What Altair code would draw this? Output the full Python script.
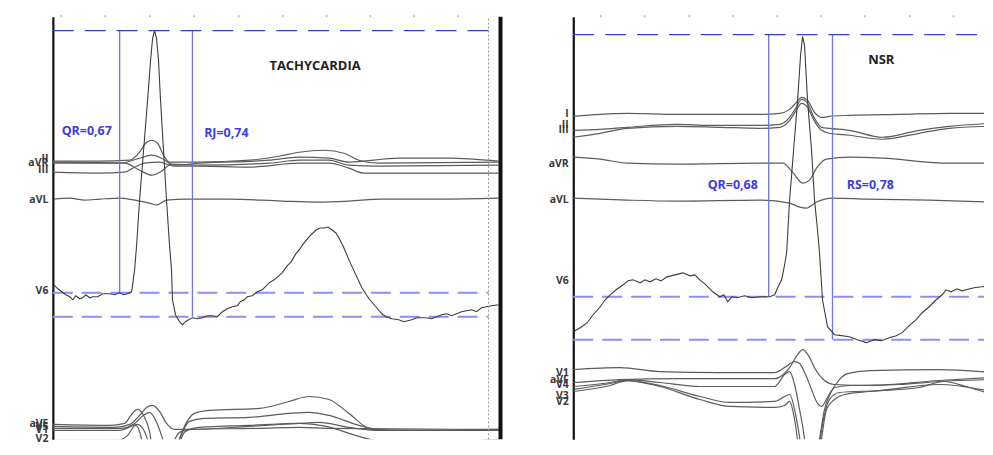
import altair as alt
import pandas as pd

# ---------------- data ----------------
# x = sample index from the left edge of each panel, y = displayed amplitude (arbitrary units)

# Left panel: TACHYCARDIA
L_V6 = [(1,158),(5,154),(9,151),(13,148),(17,146),(20,143),(23,147),(27,144),(30,145),(33,148),(37,145),(40,146),(45,146),(50,149),(57,149),(62,148),(67,150),(71,148),(75,149),(79,151),(82,173),(84,198),(87,243),(91,293),(95,343),(98,383),(100,405),(102,413),(104,405),(106,383),(108,343),(111,293),(114,243),(117,198),(119,173),(120,143),(123,128),(127,121),(130,118),(133,121),(136,123),(140,125),(145,124),(150,125),(155,127),(160,127),(165,126),(170,131),(175,134),(180,136),(185,137),(188,141),(192,143),(195,146),(200,147),(205,151),(210,153),(217,160),(222,163),(230,170),(235,177),(239,181),(243,188),(247,193),(252,200),(257,206),(260,209),(264,213),(268,215),(272,215),(276,216),(280,213),(284,210),(287,205),(292,195),(297,183),(303,170),(310,155),(317,144),(324,136),(330,129),(334,126),(340,124),(347,123),(352,121),(360,123),(365,125),(374,125),(380,124),(390,128),(395,129),(400,127),(410,131),(420,133),(425,131),(430,135),(440,137),(447,138)]
L_aVL = [(1,244),(17,245),(32,243),(47,244),(67,245),(87,242),(97,240),(104,238),(114,243),(134,244),(177,244),(230,242),(264,241),(297,242),(330,244),(387,244),(447,245)]
L_II = [(0,282),(47,282),(77,283),(87,291),(93,300),(99,303),(105,300),(111,288),(117,281),(147,281),(197,283),(227,287),(247,291),(272,293),(292,290),(307,283),(327,280),(447,281)]
L_I = [(0,280),(67,280),(87,285),(99,288),(109,285),(122,278),(147,280),(217,283),(247,286),(277,285),(297,281),(347,285),(397,285),(447,282)]
L_aVR = [(0,281),(72,280),(87,273),(99,268),(109,272),(119,279),(147,278),(217,280),(247,283),(277,283),(297,278),(327,277),(447,278)]
L_III = [(0,271),(47,270),(72,271),(82,276),(92,280),(107,281),(122,277),(147,277),(197,276),(247,280),(277,280),(297,275),(312,270),(447,270)]
L_V1 = [(0,18),(57,17),(72,19),(79,28),(85,33),(91,27),(97,11),(103,-27),(117,-27),(125,-2),(133,18),(142,29),(157,32),(207,34),(237,41),(257,46),(277,43),(297,29),(320,13),(367,12),(447,13)]
L_aVF = [(0,16),(62,15),(77,18),(87,27),(94,35),(100,37),(107,31),(114,19),(122,13),(137,13),(197,16),(247,19),(267,20),(297,15),(327,12),(447,12)]
L_V3 = [(0,14),(67,14),(82,19),(92,28),(97,30),(105,18),(112,-2),(117,-15),(123,-9),(129,8),(137,21),(152,24),(197,25),(237,29),(257,30),(277,27),(307,17),(332,12),(447,12)]
L_V5 = [(0,12),(67,12),(85,18),(95,3),(100,-27),(112,-27),(119,-5),(127,10),(137,13),(207,14),(247,15),(277,14),(447,13)]
L_V2 = [(0,2),(65,2),(75,7),(83,17),(89,3),(93,-27),(122,-27),(127,-2),(133,11),(147,15),(197,17),(247,19),(274,16),(307,6),(340,-1),(430,2),(447,3)]

L_LABELS = ["III", "aVR", "II", "aVL", "V6", "aVF", "V5", "V1", "V2"]
L_LABEL_POS = [274, 281, 285, 244, 152, 19, 16, 13, 4]
L_TICKS = [8, 52, 97, 141, 186, 230, 274, 318, 362, 406]
L_TOP_Y = 413
L_LOW_Y = [150, 126]
L_VERT_X = [67, 140]
L_VERT_Y2 = [150, 126]
L_TEXT = ["QR=0,67", "RJ=0,74"]
L_TEXT_X = [34, 174]
L_TEXT_Y = [312, 310]

# Right panel: NSR
R_V6 = [(0,111),(7,115),(14,120),(20,128),(27,136),(32,143),(37,148),(43,153),(50,158),(55,162),(60,163),(67,160),(72,163),(77,161),(83,164),(88,162),(94,166),(102,168),(110,170),(117,167),(122,168),(127,163),(133,158),(140,151),(147,146),(151,148),(155,141),(159,146),(164,145),(172,147),(179,145),(187,146),(197,146),(202,148),(205,155),(209,163),(212,178),(214,190),(217,243),(221,293),(225,343),(228,388),(230,407),(232,398),(235,343),(239,293),(242,243),(245,213),(247,190),(250,143),(255,116),(262,108),(269,107),(277,106),(285,103),(294,100),(302,103),(309,102),(317,105),(324,107),(330,110),(337,117),(344,123),(350,130),(357,136),(364,143),(370,148),(374,153),(379,151),(385,154),(390,152),(394,153),(402,155),(410,156),(420,158)]
R_I = [(0,327),(27,329),(54,330),(104,329),(187,329),(207,330),(217,334),(223,340),(229,346),(235,343),(242,331),(249,326),(257,327),(277,328),(327,329),(377,330),(420,330)]
R_II = [(0,313),(27,314),(54,316),(104,319),(137,318),(187,318),(207,319),(217,326),(223,335),(229,344),(235,340),(242,325),(249,316),(257,315),(277,313),(310,306),(347,313),(377,317),(420,320)]
R_III = [(0,306),(27,310),(54,315),(104,317),(147,316),(187,315),(207,316),(217,323),(223,332),(229,340),(235,336),(242,322),(249,313),(257,310),(277,308),(310,304),(347,310),(377,315),(420,317)]
R_aVR = [(0,286),(27,284),(54,280),(104,279),(187,280),(210,280),(220,271),(230,260),(237,263),(244,275),(254,284),(277,286),(310,285),(377,280),(420,280)]
R_aVL = [(0,245),(54,243),(104,242),(187,243),(217,240),(227,236),(234,235),(244,241),(260,245),(294,244),(357,243),(420,241)]
R_V1 = [(0,73),(47,75),(87,71),(147,70),(202,70),(212,75),(222,81),(227,79),(233,68),(239,53),(245,39),(249,36),(255,45),(262,55),(277,57),(327,58),(367,61),(420,63)]
R_aVF = [(0,60),(47,63),(107,64),(202,64),(217,75),(225,88),(230,93),(236,87),(243,73),(252,62),(262,58),(297,57),(367,62),(420,65)]
R_V4 = [(0,56),(37,60),(54,63),(87,60),(127,56),(202,56),(212,68),(217,71),(222,58),(227,33),(232,3),(235,-27),(242,-27),(247,3),(252,33),(259,51),(267,63),(275,69),(297,72),(367,73),(420,70)]
R_V3 = [(0,53),(37,59),(54,62),(87,57),(127,46),(157,40),(202,41),(212,46),(217,48),(224,23),(229,-7),(233,-27),(245,-27),(249,3),(254,33),(262,43),(272,48),(297,51),(347,55),(372,61),(397,55),(420,48)]
R_V2 = [(0,51),(37,57),(54,62),(87,56),(127,43),(157,36),(202,35),(212,37),(217,41),(222,23),(227,-12),(232,-27),(242,-27),(246,-7),(251,23),(257,43),(267,50),(307,52),(367,58),(420,51)]

R_LABELS = ["I", "II", "III", "aVR", "aVL", "V6", "V1", "aVF", "V4", "V3", "V2"]
R_LABEL_POS = [330, 319, 314, 280, 244, 162, 70, 63, 58, 47, 41]
R_TICKS = [27, 71, 116, 160, 204, 248, 292, 337, 381]
R_TOP_Y = 409
R_LOW_Y = [146, 103]
R_VERT_X = [196, 260]
R_VERT_Y2 = [146, 103]
R_TEXT = ["QR=0,68", "RS=0,78"]
R_TEXT_X = [160, 298]
R_TEXT_Y = [258, 258]

Y_DOMAIN = [3, 427]
TRACE = "#5c5c5c"
BLUE_TOP = "#3a3ad8"
BLUE_LOW = "#8e8ef2"
BLUE_V = "#7272ee"
BLUE_TXT = "#3c3ce4"


def frame(d):
    rows = []
    for name, pts in d.items():
        for x, y in pts:
            rows.append({"lead": name, "x": x, "y": y})
    return pd.DataFrame(rows)


def label_expr(names, pos):
    parts = [f"datum.value == {p} ? '{n}'" for n, p in zip(names, pos)]
    return " : ".join(parts) + " : ''"


def panel(cluster, v6, names, pos, ticks, width, top_y, low_y, low_x2,
          vert_x, vert_y2, texts, tx, ty, title, title_x, title_y, right_edge):
    xs = alt.Scale(domain=[0, width], nice=False, zero=False)
    ys = alt.Scale(domain=Y_DOMAIN, nice=False, zero=False)
    base = alt.Chart(frame(cluster)).mark_line(
        clip=True, color=TRACE, strokeWidth=1.2, interpolate="monotone"
    ).encode(
        x=alt.X("x:Q", scale=xs, axis=alt.Axis(
            orient="top", values=ticks, labels=False, domain=False, ticks=True,
            tickSize=2, tickColor="#b4b4b4", tickWidth=1.5, grid=False, title=None,
            minExtent=8, maxExtent=8)),
        y=alt.Y("y:Q", scale=ys, axis=alt.Axis(
            values=pos, labelExpr=label_expr(names, pos), ticks=False, domain=True,
            domainColor="#111111", domainWidth=2.2, grid=False, title=None,
            labelOverlap=False, labelFontSize=10.5, labelFont="Open Sans",
            labelFontWeight="bold", labelColor="#3a3a3a", labelPadding=5,
            labelBound=False, labelFlush=False, minExtent=45, maxExtent=45)),
        detail="lead:N",
    )
    v6_line = alt.Chart(frame({"V6": v6})).mark_line(
        clip=True, color="#3c3c3c", strokeWidth=1.1, interpolate="linear"
    ).encode(x="x:Q", y="y:Q")

    top = alt.Chart(pd.DataFrame({"y": [top_y], "x": [0], "x2": [width]})).mark_rule(
        color=BLUE_TOP, strokeWidth=1.4, strokeDash=[21, 11]
    ).encode(y="y:Q", x="x:Q", x2="x2:Q")
    low = alt.Chart(pd.DataFrame({"y": low_y, "x": [0] * len(low_y), "x2": [low_x2] * len(low_y)})).mark_rule(
        color=BLUE_LOW, strokeWidth=2, strokeDash=[20, 9]
    ).encode(y="y:Q", x="x:Q", x2="x2:Q")
    vert = alt.Chart(pd.DataFrame({"x": vert_x, "y": [top_y] * len(vert_x), "y2": vert_y2})).mark_rule(
        color=BLUE_V, strokeWidth=1.3
    ).encode(x="x:Q", y="y:Q", y2="y2:Q")
    txt = alt.Chart(pd.DataFrame({"x": tx, "y": ty, "t": texts})).mark_text(
        color=BLUE_TXT, font="Open Sans", fontWeight="bold", fontSize=12.5
    ).encode(x="x:Q", y="y:Q", text="t:N")
    ttl = alt.Chart(pd.DataFrame({"x": [title_x], "y": [title_y], "t": [title]})).mark_text(
        color="#222222", font="Open Sans", fontWeight="bold", fontSize=13
    ).encode(x="x:Q", y="y:Q", text="t:N")

    layers = [base, low, vert, v6_line, top, txt, ttl]
    if right_edge:
        dotted = alt.Chart(pd.DataFrame({"x": [low_x2], "y": [Y_DOMAIN[0]], "y2": [Y_DOMAIN[1]]})).mark_rule(
            color="#9a9a9a", strokeWidth=1, strokeDash=[2, 2]
        ).encode(x="x:Q", y="y:Q", y2="y2:Q")
        bar = alt.Chart(pd.DataFrame({"x": [width], "y": [Y_DOMAIN[0]], "y2": [Y_DOMAIN[1]]})).mark_rule(
            color="#111111", strokeWidth=4
        ).encode(x="x:Q", y="y:Q", y2="y2:Q")
        layers += [dotted, bar]
    return alt.layer(*layers).properties(width=width, height=Y_DOMAIN[1] - Y_DOMAIN[0])


left = panel(
    {"II": L_II, "I": L_I, "aVR": L_aVR, "III": L_III, "aVL": L_aVL,
     "V1": L_V1, "aVF": L_aVF, "V3": L_V3, "V5": L_V5, "V2": L_V2},
    L_V6, L_LABELS, L_LABEL_POS, L_TICKS, 449, L_TOP_Y, L_LOW_Y, 437,
    L_VERT_X, L_VERT_Y2, L_TEXT, L_TEXT_X, L_TEXT_Y, "TACHYCARDIA", 263, 377, True)

right = panel(
    {"I": R_I, "II": R_II, "III": R_III, "aVR": R_aVR, "aVL": R_aVL,
     "V1": R_V1, "aVF": R_aVF, "V4": R_V4, "V3": R_V3, "V2": R_V2},
    R_V6, R_LABELS, R_LABEL_POS, R_TICKS, 412, R_TOP_Y, R_LOW_Y, 412,
    R_VERT_X, R_VERT_Y2, R_TEXT, R_TEXT_X, R_TEXT_Y, "NSR", 309, 383, False)

chart = alt.hconcat(left, right, spacing=26).properties(
    padding=0, background="white"
).configure_view(stroke=None)

chart.save("out.html", embed_options={"renderer": "svg", "actions": False})
